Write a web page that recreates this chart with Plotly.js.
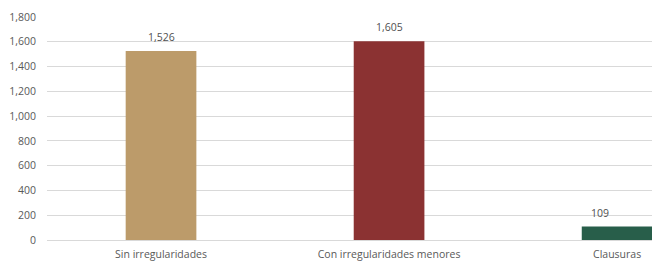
<!DOCTYPE html>
<html><head><meta charset="utf-8">
<script src="https://cdn.plot.ly/plotly-3.0.1.min.js"></script>
<style>html,body{margin:0;padding:0;background:#fff;}#chart{width:652px;height:263px;}</style>
</head><body><div id="chart"></div>
<script>
const categories = ["Sin irregularidades", "Con irregularidades menores", "Clausuras"];
const values = [1526, 1605, 109];
const barColors = ["#BC9B6A", "#8B3232", "#285E4A"];
const yTicks = [0, 200, 400, 600, 800, 1000, 1200, 1400, 1600, 1800];
const labelShift = [0, 0, -17];

const trace = {
  type: "bar", x: categories, y: values,
  marker: {color: barColors},
  hoverinfo: "none"
};
const annotations = categories.map((c, i) => ({
  x: c, y: values[i], xref: "x", yref: "y",
  text: values[i].toLocaleString("en-US"),
  showarrow: false, yanchor: "bottom", yshift: 5, xshift: labelShift[i],
  font: {family: "Open Sans", size: 10.5, color: "#505050"}
}));
const layout = {
  width: 652, height: 263,
  margin: {l: 47, r: 0, t: 17, b: 23},
  paper_bgcolor: "#fff", plot_bgcolor: "#fff",
  bargap: 0.69, showlegend: false,
  font: {family: "Open Sans", size: 10.5, color: "#595959"},
  xaxis: {range: [-0.5, 2.153], showgrid: false, zeroline: false, showline: true,
    linecolor: "#d9d9d9", linewidth: 1, ticks: "", ticklabelstandoff: 4,
    tickfont: {size: 10.5, color: "#595959"}},
  yaxis: {range: [0, 1800], tickvals: yTicks, ticktext: yTicks.map(v => v.toLocaleString("en-US")),
    showgrid: true, gridcolor: "#d9d9d9", zeroline: false, ticks: "", ticklabelstandoff: 10,
    tickfont: {size: 10.5, color: "#595959"}},
  annotations: annotations
};
Plotly.newPlot("chart", [trace], layout, {staticPlot: true, displayModeBar: false});
</script></body></html>
